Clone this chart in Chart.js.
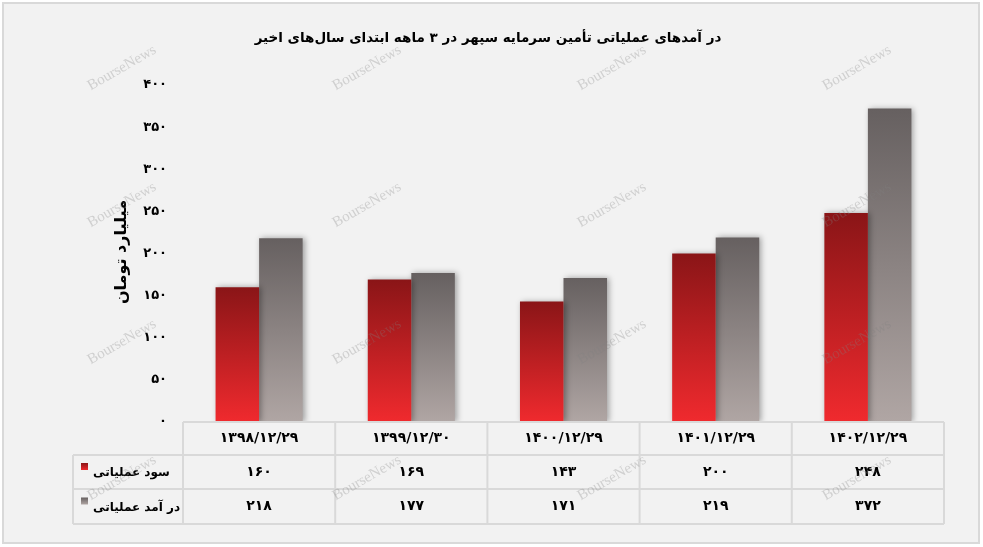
<!DOCTYPE html>
<html><head><meta charset="utf-8">
<script src="https://cdn.jsdelivr.net/npm/chart.js@4.4.0/dist/chart.umd.min.js"></script>
<style>html,body{margin:0;padding:0;background:#fff}canvas{display:block}</style>
</head><body>
<canvas id="c" width="983" height="547"></canvas>
<script>
const chartTitle = 'در آمدهای عملیاتی تأمین سرمایه سپهر در ۳ ماهه ابتدای سال‌های اخیر';
const yAxisTitle = 'میلیارد تومان';
const categories = ['۱۳۹۸/۱۲/۲۹','۱۳۹۹/۱۲/۳۰','۱۴۰۰/۱۲/۲۹','۱۴۰۱/۱۲/۲۹','۱۴۰۲/۱۲/۲۹'];
const seriesNames = ['سود عملیاتی','در آمد عملیاتی'];
const operatingProfit = [160,169,143,200,248];
const operatingRevenue = [218,177,171,219,372];
const yMin = 0, yMax = 400, yStep = 50;
const watermarkText = 'BourseNews';

const FONT = "'DejaVu Sans', sans-serif";
const fa = v => String(v).replace(/\d/g, d => '۰۱۲۳۴۵۶۷۸۹'[d]);

const redStops = ['#8a1517', '#f02a2e'];
const grayStops = ['#666060', '#b0a6a4'];

function barGradient(stops) {
  return function(context) {
    const chart = context.chart;
    const area = chart.chartArea;
    if (!area || context.raw == null) return stops[1];
    const y = chart.scales.y;
    const top = y.getPixelForValue(context.raw);
    const bottom = y.getPixelForValue(0);
    if (!isFinite(top) || bottom - top < 1) return stops[1];
    const g = chart.ctx.createLinearGradient(0, top, 0, bottom);
    g.addColorStop(0, stops[0]);
    g.addColorStop(1, stops[1]);
    return g;
  };
}

const deco = {
  id: 'deco',
  beforeDraw(chart) {
    const ctx = chart.ctx;
    ctx.save();
    ctx.fillStyle = '#ffffff';
    ctx.fillRect(0, 0, chart.width, chart.height);
    ctx.fillStyle = '#f2f2f2';
    ctx.fillRect(3, 3, 976, 540);
    ctx.strokeStyle = '#d9d9d9';
    ctx.lineWidth = 2;
    ctx.strokeRect(3, 3, 976, 540);
    ctx.restore();
  },
  beforeDatasetsDraw(chart) {
    const ctx = chart.ctx;
    ctx.save();
    ctx.shadowColor = 'rgba(0,0,0,0.35)';
    ctx.shadowBlur = 6;
    ctx.shadowOffsetX = 2;
    ctx.shadowOffsetY = 0;
  },
  afterDatasetsDraw(chart) {
    chart.ctx.restore();
  },
  afterDraw(chart) {
    const ctx = chart.ctx;
    const x = chart.scales.x;
    const area = chart.chartArea;
    const n = categories.length;
    const w = (x.right - x.left) / n;
    const top = area.bottom;
    const r1 = top + 33, r2 = top + 67, r3 = top + 102;
    const leftCol = 73;

    ctx.save();
    // table lines
    ctx.strokeStyle = '#d9d9d9';
    ctx.lineWidth = 2;
    ctx.beginPath();
    ctx.moveTo(x.left, top); ctx.lineTo(x.right, top);
    [r1, r2, r3].forEach(yy => { ctx.moveTo(leftCol, yy); ctx.lineTo(x.right, yy); });
    for (let i = 0; i <= n; i++) {
      const xx = x.left + i * w;
      ctx.moveTo(xx, top); ctx.lineTo(xx, r3);
    }
    ctx.moveTo(leftCol, r1); ctx.lineTo(leftCol, r3);
    ctx.stroke();

    // table texts
    ctx.fillStyle = '#000';
    ctx.textBaseline = 'middle';
    ctx.textAlign = 'center';
    ctx.direction = 'rtl';
    ctx.font = 'bold 14px ' + FONT;
    for (let i = 0; i < n; i++) {
      const cx = x.getPixelForValue(i);
      ctx.fillText(categories[i], cx, (top + r1) / 2);
      ctx.fillText(fa(operatingProfit[i]), cx, (r1 + r2) / 2);
      ctx.fillText(fa(operatingRevenue[i]), cx, (r2 + r3) / 2);
    }
    // row headers
    ctx.font = 'bold 12px ' + FONT;
    const rows = [[seriesNames[0], (r1 + r2) / 2, redStops], [seriesNames[1], (r2 + r3) / 2, grayStops]];
    rows.forEach(([name, yy, stops]) => {
      const g = ctx.createLinearGradient(0, yy - 9, 0, yy - 2);
      g.addColorStop(0, stops[0]); g.addColorStop(1, stops[1]);
      ctx.fillStyle = g;
      ctx.fillRect(81, yy - 9, 7, 7);
      ctx.fillStyle = '#000';
      ctx.save();
      ctx.direction = 'rtl';
      ctx.textAlign = 'left';
      ctx.fillText(name, 93, yy + 1);
      ctx.restore();
    });

    // title
    ctx.direction = 'rtl';
    ctx.textAlign = 'center';
    ctx.font = 'bold 13.5px ' + FONT;
    ctx.fillText(chartTitle, 488, 38);

    // y axis title
    ctx.save();
    ctx.translate(122, 252);
    ctx.rotate(-Math.PI / 2);
    ctx.font = 'bold 16px ' + FONT;
    ctx.fillText(yAxisTitle, 0, 0);
    ctx.restore();

    // watermarks
    ctx.direction = 'ltr';
    ctx.textAlign = 'center';
    ctx.textBaseline = 'middle';
    ctx.font = '15px "Liberation Serif", serif';
    ctx.fillStyle = 'rgba(130,130,130,0.3)';
    const wxs = [122, 367, 612, 857];
    const wys = [68, 205, 342, 478];
    wys.forEach(wy => wxs.forEach(wx => {
      ctx.save();
      ctx.translate(wx, wy);
      ctx.rotate(-Math.PI / 6);
      ctx.fillText(watermarkText, 0, 0);
      ctx.restore();
    }));
    ctx.restore();
  }
};

new Chart(document.getElementById('c'), {
  type: 'bar',
  data: {
    labels: categories,
    datasets: [
      { label: seriesNames[0], data: operatingProfit, backgroundColor: barGradient(redStops), borderWidth: 0 },
      { label: seriesNames[1], data: operatingRevenue, backgroundColor: barGradient(grayStops), borderWidth: 0 }
    ]
  },
  options: {
    responsive: false,
    animation: false,
    layout: { padding: { left: 0, right: 39, top: 85, bottom: 125 } },
    datasets: { bar: { categoryPercentage: 0.572, barPercentage: 1.0 } },
    plugins: { legend: { display: false }, title: { display: false }, tooltip: { enabled: false } },
    scales: {
      x: { display: false, offset: true },
      y: {
        min: yMin, max: yMax,
        afterFit(s) { s.width = 183; },
        border: { display: false },
        grid: { display: false, drawTicks: false },
        ticks: {
          stepSize: yStep,
          padding: 16,
          color: '#000',
          font: { family: FONT, weight: 'bold', size: 13 },
          callback: v => fa(v)
        }
      }
    }
  },
  plugins: [deco]
});
</script>
</body></html>
